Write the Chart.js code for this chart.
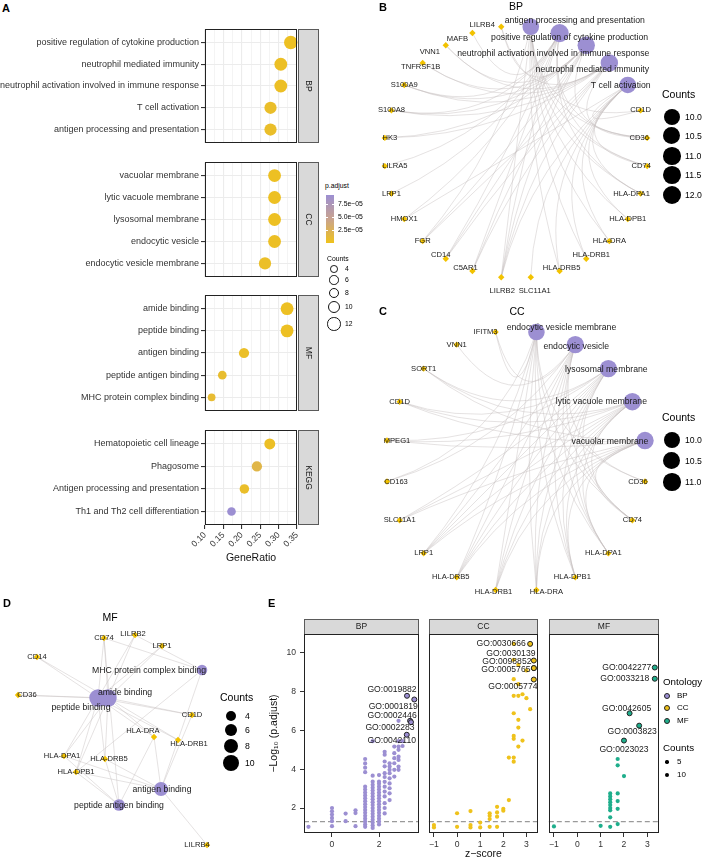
<!DOCTYPE html>
<html>
<head>
<meta charset="utf-8">
<script src="https://cdn.jsdelivr.net/npm/chart.js@4.4.1/dist/chart.umd.min.js"></script>
<style>
  html, body { margin: 0; padding: 0; background: #fff; }
  body { position: relative; width: 704px; height: 860px; overflow: hidden;
         font-family: 'Liberation Sans', Arial, Helvetica, sans-serif; color: #000; }
  canvas { position: absolute; }
  .t { position: absolute; white-space: nowrap; line-height: 1; }
</style>
</head>
<body>
<canvas id="aBP" width="320" height="128" style="left:0;top:22px"></canvas>
<canvas id="aCC" width="320" height="129" style="left:0;top:155px"></canvas>
<canvas id="aMF" width="320" height="130" style="left:0;top:288px"></canvas>
<canvas id="aKEGG" width="320" height="145" style="left:0;top:423px"></canvas>
<canvas id="netBP" width="352" height="300" style="left:352px;top:0"></canvas>
<canvas id="netCC" width="352" height="300" style="left:352px;top:300px"></canvas>
<canvas id="netMF" width="265" height="280" style="left:0;top:580px"></canvas>
<canvas id="eBP" width="152" height="243" style="left:268px;top:617px"></canvas>
<canvas id="eCC" width="112" height="243" style="left:427px;top:617px"></canvas>
<canvas id="eMF" width="113" height="243" style="left:547px;top:617px"></canvas>
<script>
/* =========================
   Data
   ========================= */
// A: enrichment dot plot
const bpTerms = ['positive regulation of cytokine production', 'neutrophil mediated immunity',
  'neutrophil activation involved in immune response', 'T cell activation', 'antigen processing and presentation'];
const bpRatio = [0.333, 0.306, 0.306, 0.278, 0.278];
const bpCount = [12, 11, 11, 10, 10];
const bpPadj = [3e-6, 4e-6, 4e-6, 6e-6, 6e-6];

const ccTerms = ['vacuolar membrane', 'lytic vacuole membrane', 'lysosomal membrane', 'endocytic vesicle', 'endocytic vesicle membrane'];
const ccRatio = [0.289, 0.289, 0.289, 0.289, 0.263];
const ccCount = [11, 11, 11, 11, 10];
const ccPadj = [3e-6, 3e-6, 3e-6, 4e-6, 5e-6];

const mfTerms = ['amide binding', 'peptide binding', 'antigen binding', 'peptide antigen binding', 'MHC protein complex binding'];
const mfRatio = [0.323, 0.323, 0.206, 0.147, 0.118];
const mfCount = [11, 11, 7, 5, 4];
const mfPadj = [3e-6, 3e-6, 5e-6, 8e-6, 9e-6];

const keggTerms = ['Hematopoietic cell lineage', 'Phagosome', 'Antigen processing and presentation', 'Th1 and Th2 cell differentiation'];
const keggRatio = [0.276, 0.241, 0.207, 0.172];
const keggCount = [8, 7, 6, 5];
const keggPadj = [4e-6, 1.8e-5, 6e-6, 9.2e-5];

const padjMax = 9.2e-5;
const padjTicks = [2.5e-5, 5.0e-5, 7.5e-5];
const countTicksA = [4, 6, 8, 10, 12];

// B: BP gene-concept network (circular)
const bpNetTerms = ['antigen processing and presentation', 'positive regulation of cytokine production',
  'neutrophil activation involved in immune response', 'neutrophil mediated immunity', 'T cell activation'];
const bpNetCounts = [10, 12, 11, 11, 10];
const bpNetGenes = ['CD1D', 'CD36', 'CD74', 'HLA-DPA1', 'HLA-DPB1', 'HLA-DRA', 'HLA-DRB1', 'HLA-DRB5', 'SLC11A1',
  'LILRB2', 'C5AR1', 'CD14', 'FGR', 'HMOX1', 'LRP1', 'LILRA5', 'HK3', 'S100A8', 'S100A9', 'TNFRSF1B', 'VNN1', 'MAFB', 'LILRB4'];
const bpNetLinks = [
  ['CD1D', 'CD74', 'HLA-DPA1', 'HLA-DPB1', 'HLA-DRA', 'HLA-DRB1', 'HLA-DRB5', 'CD36', 'LILRB2', 'FGR'],
  ['CD14', 'CD36', 'CD74', 'LILRA5', 'LILRB2', 'C5AR1', 'HMOX1', 'MAFB', 'S100A8', 'S100A9', 'HLA-DPA1', 'LRP1'],
  ['LILRB4', 'LILRB2', 'C5AR1', 'CD14', 'FGR', 'HK3', 'S100A8', 'S100A9', 'TNFRSF1B', 'VNN1', 'CD36'],
  ['LILRB4', 'LILRB2', 'C5AR1', 'CD14', 'FGR', 'HK3', 'S100A8', 'S100A9', 'TNFRSF1B', 'VNN1', 'CD36'],
  ['CD1D', 'CD74', 'HLA-DPA1', 'HLA-DPB1', 'HLA-DRA', 'HLA-DRB1', 'HLA-DRB5', 'HMOX1', 'SLC11A1', 'LILRB2']
];
const bpCountTicks = [10.0, 10.5, 11.0, 11.5, 12.0];

// C: CC gene-concept network (circular)
const ccNetTerms = ['endocytic vesicle membrane', 'endocytic vesicle', 'lysosomal membrane', 'lytic vacuole membrane', 'vacuolar membrane'];
const ccNetCounts = [10, 11, 11, 11, 11];
const ccNetGenes = ['CD36', 'CD74', 'HLA-DPA1', 'HLA-DPB1', 'HLA-DRA', 'HLA-DRB1', 'HLA-DRB5', 'LRP1', 'SLC11A1',
  'CD163', 'MPEG1', 'CD1D', 'SORT1', 'VNN1', 'IFITM3'];
const lysoGenes = ['CD1D', 'CD74', 'HLA-DPA1', 'HLA-DPB1', 'HLA-DRA', 'HLA-DRB1', 'HLA-DRB5', 'SLC11A1', 'MPEG1', 'SORT1', 'LRP1'];
const ccNetLinks = [
  ['CD36', 'CD74', 'HLA-DPA1', 'HLA-DPB1', 'HLA-DRA', 'HLA-DRB1', 'HLA-DRB5', 'LRP1', 'CD163', 'IFITM3'],
  ['CD36', 'CD74', 'HLA-DPA1', 'HLA-DPB1', 'HLA-DRA', 'HLA-DRB1', 'HLA-DRB5', 'LRP1', 'CD163', 'IFITM3', 'VNN1'],
  lysoGenes, lysoGenes, lysoGenes
];
const ccCountTicks = [10.0, 10.5, 11.0];

// D: MF gene-concept network (force layout)
const mfNetTerms = ['amide binding', 'peptide binding', 'MHC protein complex binding', 'antigen binding', 'peptide antigen binding'];
const mfNetCounts = [11, 11, 4, 7, 5];
const mfNetTermX = [-0.24, -0.04, 1.84, 1.02, 0.18];
const mfNetTermY = [0.44, 0.44, 1.0, -1.38, -1.7];
const mfNetGenes = ['CD74', 'LILRB2', 'LRP1', 'CD14', 'CD36', 'CD1D', 'HLA-DRA', 'HLA-DRB1', 'HLA-DPA1', 'HLA-DRB5', 'HLA-DPB1', 'LILRB4'];
const mfNetGeneX = [-0.12, 0.5, 1.04, -1.46, -1.84, 1.64, 0.88, 1.36, -0.92, -0.1, -0.68, 1.94];
const mfNetGeneY = [1.64, 1.7, 1.48, 1.26, 0.5, 0.1, -0.34, -0.4, -0.72, -0.78, -1.04, -2.5];
const amideGenes = ['CD74', 'LILRB2', 'LRP1', 'CD14', 'CD36', 'CD1D', 'HLA-DRA', 'HLA-DRB1', 'HLA-DPA1', 'HLA-DRB5', 'HLA-DPB1'];
const mfNetLinks = [
  amideGenes, amideGenes,
  ['CD74', 'LILRB2', 'HLA-DRB1', 'HLA-DPB1'],
  ['LILRB4', 'HLA-DRA', 'HLA-DRB1', 'HLA-DPA1', 'HLA-DPB1', 'HLA-DRB5', 'CD1D'],
  ['HLA-DRA', 'HLA-DPA1', 'HLA-DPB1', 'HLA-DRB5', 'CD74']
];
const mfCountTicks = [4, 6, 8, 10];

// E: z-score vs -log10(p.adjust), unlabelled terms grouped by z-score column
const eBpZ = [-1, 0, 0.58, 1, 1.41, 1.73, 2, 2.24, 2.45, 2.65, 2.83, 3];
const eBpLogP = [
  [1.03],
  [2.0, 1.83, 1.66, 1.49, 1.32, 1.06],
  [1.71, 1.32],
  [1.88, 1.74, 1.06],
  [4.53, 4.3, 4.08, 3.85, 3.1, 2.95, 2.8, 2.65, 2.5, 2.35, 2.2, 2.05, 1.9, 1.75, 1.6, 1.45, 1.3, 1.15, 1.03],
  [5.45, 3.67, 3.36, 3.2, 3.05, 2.9, 2.75, 2.6, 2.45, 2.3, 2.15, 2.0, 1.85, 1.7, 1.55, 1.4, 1.25, 1.1, 0.97],
  [3.7, 3.36, 3.25, 3.1, 2.95, 2.8, 2.65, 2.5, 2.35, 2.2, 2.05, 1.9, 1.75, 1.6, 1.45, 1.3, 1.15],
  [4.9, 4.75, 4.4, 4.15, 3.8, 3.6, 3.35, 3.1, 2.85, 2.6, 2.25, 2.0, 1.72],
  [4.31, 4.14, 3.97, 3.8, 3.53, 3.27, 3.02, 2.76, 2.41],
  [5.17, 4.83, 4.57, 4.31, 3.97, 3.62],
  [6.5, 5.45, 5.17, 5.0, 4.65, 4.48, 4.14, 3.97],
  [5.45, 5.2]
];
const eBpTopId = ['GO:0019882', 'GO:0001819', 'GO:0002446', 'GO:0002283', 'GO:0042110'];
const eBpTopZ = [3.19, 3.5, 3.32, 3.36, 3.18];
const eBpTopLogP = [7.79, 7.6, 6.5, 6.43, 5.78];

const eCcZ = [-1, 0, 0.58, 1, 1.41, 1.73, 2, 2.24, 2.45, 2.65, 2.83, 3, 3.16];
const eCcLogP = [
  [1.12, 1.0],
  [1.73, 1.03],
  [1.84, 1.12, 1.0],
  [1.25, 1.0],
  [1.73, 1.6, 1.43, 1.03],
  [2.06, 1.77, 1.55, 1.03],
  [1.96, 1.86],
  [4.6, 2.41],
  [10.47, 9.65, 8.65, 7.79, 6.89, 5.72, 5.57, 4.6, 4.39],
  [9.39, 8.39, 7.79, 6.55, 6.15, 5.17],
  [7.87, 5.48],
  [9.1, 7.67],
  [7.1]
];
const eCcTopId = ['GO:0030666', 'GO:0030139', 'GO:0098852', 'GO:0005765', 'GO:0005774'];
const eCcTopZ = [3.16, 3.32, 3.32, 3.32, 3.32];
const eCcTopLogP = [10.47, 9.61, 9.22, 9.22, 8.63];

const eMfZ = [-1, 1, 1.41, 1.73, 2];
const eMfLogP = [
  [1.05],
  [1.08],
  [2.75, 2.6, 2.45, 2.3, 2.15, 2.0, 1.88, 1.52, 1.03],
  [4.53, 4.2, 2.75, 2.36, 1.96, 1.17],
  [3.65]
];
const eMfTopId = ['GO:0042277', 'GO:0033218', 'GO:0042605', 'GO:0003823', 'GO:0023023'];
const eMfTopZ = [3.32, 3.32, 2.24, 2.65, 2.0];
const eMfTopLogP = [9.25, 8.67, 6.89, 6.25, 5.48];

const eYTicks = [2, 4, 6, 8, 10];
const pCutoff = -Math.log10(0.05);

/* =========================
   Theme
   ========================= */
const FONT = "'Liberation Sans', Arial, Helvetica, sans-serif";
Chart.defaults.font.family = FONT;
Chart.defaults.color = '#333';

const YELLOW = '#EFC21B';
const PURPLE = '#9C8FD2';
const TEAL = '#1FAE8C';
const GENE = '#F2C200';
const EDGE = 'rgba(196,190,190,0.75)';

function mix(a, b, t) {
  const pa = a.match(/\w\w/g).map(h => parseInt(h, 16));
  const pb = b.match(/\w\w/g).map(h => parseInt(h, 16));
  return 'rgb(' + pa.map((v, i) => Math.round(v + (pb[i] - v) * t)).join(',') + ')';
}
function padjColor(p) {
  const t = Math.min(1, Math.max(0, p / padjMax));
  return t < 0.5 ? mix('EFC21B', 'C9A38F', t * 2) : mix('C9A38F', '9C8FD2', (t - 0.5) * 2);
}
const dotRadius = c => 6.7 * Math.sqrt(c / 12);
const netRadius = c => 8.3 * Math.sqrt(c / 10);

/* =========================
   Plugins
   ========================= */
function framePlugin(o) {
  return {
    id: 'frame',
    beforeDatasetsDraw(chart) {
      if (o.hline == null) return;
      const { ctx, chartArea: a, scales: { y } } = chart;
      const py = y.getPixelForValue(o.hline);
      ctx.save();
      ctx.strokeStyle = '#9a9a9a'; ctx.lineWidth = 1.3; ctx.setLineDash([5, 3]);
      ctx.beginPath(); ctx.moveTo(a.left, py); ctx.lineTo(a.right, py); ctx.stroke();
      ctx.restore();
    },
    afterDraw(chart) {
      const { ctx, chartArea: a } = chart;
      ctx.save();
      const L = Math.round(a.left) + 0.5, T = Math.round(a.top) + 0.5;
      const R = Math.round(a.right) - 0.5, B = Math.round(a.bottom) - 0.5;
      ctx.fillStyle = '#D9D9D9'; ctx.strokeStyle = '#5a5a5a'; ctx.lineWidth = 1;
      ctx.font = '8.5px ' + FONT; ctx.textAlign = 'center'; ctx.textBaseline = 'middle';
      if (o.side === 'right') {
        ctx.fillRect(R + 2, T, 20, B - T);
        ctx.strokeRect(R + 2, T, 20, B - T);
        ctx.fillStyle = '#1a1a1a';
        ctx.translate(R + 12, (T + B) / 2); ctx.rotate(Math.PI / 2);
        ctx.fillText(o.strip, 0, 0);
        ctx.setTransform(1, 0, 0, 1, 0, 0);
      } else if (o.side === 'top') {
        ctx.fillRect(L, T - 15, R - L, 15);
        ctx.strokeRect(L, T - 15, R - L, 15);
        ctx.fillStyle = '#1a1a1a';
        ctx.fillText(o.strip, (L + R) / 2, T - 7.5);
      }
      ctx.strokeStyle = '#222';
      ctx.strokeRect(L, T, R - L, B - T);
      ctx.restore();
    }
  };
}

function netPlugin(o) {
  return {
    id: 'net',
    beforeDatasetsDraw(chart) {
      const { ctx, scales: { x, y } } = chart;
      const cx = x.getPixelForValue(0), cy = y.getPixelForValue(0);
      ctx.save();
      ctx.strokeStyle = o.edgeColor; ctx.lineWidth = o.edgeWidth;
      o.edges.forEach(([p, q]) => {
        const x1 = x.getPixelForValue(p.x), y1 = y.getPixelForValue(p.y);
        const x2 = x.getPixelForValue(q.x), y2 = y.getPixelForValue(q.y);
        ctx.beginPath(); ctx.moveTo(x1, y1);
        if (o.bend) {
          const mx = (x1 + x2) / 2, my = (y1 + y2) / 2;
          ctx.quadraticCurveTo(mx + (cx - mx) * o.bend, my + (cy - my) * o.bend, x2, y2);
        } else {
          ctx.lineTo(x2, y2);
        }
        ctx.stroke();
      });
      ctx.restore();
    },
    afterDatasetsDraw(chart) {
      const { ctx, scales: { x, y } } = chart;
      ctx.save();
      ctx.textAlign = 'center'; ctx.textBaseline = 'middle'; ctx.fillStyle = '#1a1a1a';
      o.labels.forEach(l => {
        const [dx, dy] = o.nudge[l.name] || [0, 0];
        ctx.font = l.size + 'px ' + FONT;
        ctx.fillText(l.name, x.getPixelForValue(l.x) + dx, y.getPixelForValue(l.y) + dy);
      });
      ctx.restore();
    }
  };
}

function pointLabelPlugin(o) {
  return {
    id: 'pointLabels',
    afterDatasetsDraw(chart) {
      const { ctx, scales: { x, y } } = chart;
      ctx.save();
      ctx.textAlign = 'center'; ctx.textBaseline = 'middle'; ctx.fillStyle = '#1a1a1a';
      ctx.font = '8.6px ' + FONT;
      o.ids.forEach((id, i) => {
        const [dx, dy] = o.nudge[i];
        ctx.fillText(id, x.getPixelForValue(o.z[i]) + dx, y.getPixelForValue(o.lp[i]) + dy);
      });
      ctx.restore();
    }
  };
}

const base = { responsive: false, animation: false, events: [] };
const noPlugins = { legend: { display: false }, tooltip: { enabled: false } };

/* =========================
   A: dot plot facets
   ========================= */
function dotFacet(id, terms, ratio, count, padj, strip, bottom) {
  const n = terms.length;
  return new Chart(document.getElementById(id), {
    type: 'scatter',
    data: {
      datasets: [{
        data: ratio.map((r, i) => ({ x: r, y: i })),
        pointRadius: count.map(dotRadius),
        pointBackgroundColor: padj.map(padjColor),
        pointBorderWidth: 0,
        clip: false
      }]
    },
    options: {
      ...base,
      layout: { autoPadding: false, padding: { top: 2, right: 23, bottom: bottom ? 0 : 2, left: 0 } },
      plugins: noPlugins,
      scales: {
        x: {
          type: 'linear', min: 0.1, max: 0.35,
          afterBuildTicks: ax => { ax.ticks = []; for (let k = 0; k <= 10; k++) ax.ticks.push({ value: 0.1 + k * 0.025 }); },
          afterFit: ax => { ax.height = bottom ? 43 : 0; },
          grid: {
            color: '#ECECEC', lineWidth: c => (c.index % 2 ? 0.6 : 1.1),
            drawTicks: bottom, tickLength: 4,
            tickColor: c => (c.index % 2 ? 'rgba(0,0,0,0)' : '#333')
          },
          border: { display: false },
          ticks: {
            display: bottom, autoSkip: false, minRotation: 45, maxRotation: 45, padding: 1,
            font: { size: 8.6 }, color: '#333',
            callback: (v, i) => (i % 2 ? '' : (0.1 + i * 0.025).toFixed(2))
          },
          title: { display: bottom, text: 'GeneRatio', font: { size: 10.5 }, color: '#111', padding: { top: 0, bottom: 4 } }
        },
        y: {
          type: 'linear', reverse: true, min: -0.6, max: n - 0.4,
          afterBuildTicks: ax => { ax.ticks = terms.map((t, i) => ({ value: i })); },
          afterFit: ax => { ax.width = 205; },
          grid: { color: '#ECECEC', lineWidth: 1.1, tickLength: 4, tickColor: '#333' },
          border: { display: false },
          ticks: { autoSkip: false, font: { size: 9 }, color: '#333', padding: 2, callback: v => terms[v] }
        }
      }
    },
    plugins: [framePlugin({ strip, side: 'right' })]
  });
}

dotFacet('aBP', bpTerms, bpRatio, bpCount, bpPadj, 'BP', false);
dotFacet('aCC', ccTerms, ccRatio, ccCount, ccPadj, 'CC', false);
dotFacet('aMF', mfTerms, mfRatio, mfCount, mfPadj, 'MF', false);
dotFacet('aKEGG', keggTerms, keggRatio, keggCount, keggPadj, 'KEGG', true);

/* =========================
   B, C, D: gene-concept networks
   ========================= */
function netChart(id, terms, counts, termPos, genes, genePos, links, view, nudge, bend) {
  const tNodes = terms.map((t, i) => ({ name: t, x: termPos[i].x, y: termPos[i].y }));
  const gNodes = genes.map((g, i) => ({ name: g, x: genePos[i].x, y: genePos[i].y }));
  const gIndex = Object.fromEntries(gNodes.map(g => [g.name, g]));
  const edges = [];
  links.forEach((list, i) => list.forEach(g => edges.push([tNodes[i], gIndex[g]])));
  const labels = gNodes.map(g => ({ ...g, size: 7.6 })).concat(tNodes.map(t => ({ ...t, size: 8.7 })));
  return new Chart(document.getElementById(id), {
    type: 'scatter',
    data: {
      datasets: [
        { data: tNodes, pointRadius: counts.map(netRadius), backgroundColor: PURPLE, borderWidth: 0, clip: false },
        { data: gNodes, pointRadius: 3.2, pointStyle: 'rectRot', backgroundColor: GENE, borderWidth: 0, clip: false }
      ]
    },
    options: {
      ...base,
      layout: { autoPadding: false, padding: 0 },
      plugins: noPlugins,
      scales: {
        x: { type: 'linear', display: false, min: view.x0, max: view.x1 },
        y: { type: 'linear', display: false, min: view.y0, max: view.y1 }
      }
    },
    plugins: [netPlugin({ edges, labels, nudge, bend, edgeColor: EDGE, edgeWidth: 0.6 })]
  });
}

function circlePos(n) {
  const out = [];
  for (let k = 0; k < n; k++) {
    const a = (k + 0.5) * 2 * Math.PI / n;
    out.push({ x: Math.sin(a), y: Math.cos(a) });
  }
  return out;
}

{
  const pos = circlePos(bpNetTerms.length + bpNetGenes.length);
  netChart('netBP', bpNetTerms, bpNetCounts, pos.slice(0, 5), bpNetGenes, pos.slice(5), bpNetLinks,
    { x0: -164 / 132, x1: 188 / 132, y0: -148 / 126, y1: 152 / 126 },
    {
      'antigen processing and presentation': [44, -6], 'positive regulation of cytokine production': [10, 5],
      'neutrophil activation involved in immune response': [-33, 8], 'neutrophil mediated immunity': [-17, 7],
      'T cell activation': [-7, 1],
      'LILRB4': [-19, -2], 'MAFB': [-15, 6], 'VNN1': [-16, 7], 'TNFRSF1B': [-2, 4], 'HK3': [5, 0], 'LILRA5': [10, 0],
      'CD14': [-5, -4], 'C5AR1': [-7, -3], 'LILRB2': [1, 14], 'SLC11A1': [4, 14], 'HLA-DRB5': [2, -3],
      'HLA-DRB1': [5, -4], 'HLA-DPA1': [-9, 0], 'CD74': [-6, 0], 'CD36': [-8, 0]
    }, 0.7);
}
{
  const pos = circlePos(ccNetTerms.length + ccNetGenes.length);
  netChart('netCC', ccNetTerms, ccNetCounts, pos.slice(0, 5), ccNetGenes, pos.slice(5), ccNetLinks,
    { x0: -164 / 130.6, x1: 188 / 130.6, y0: -139 / 130.6, y1: 161 / 130.6 },
    {
      'endocytic vesicle membrane': [25, -4], 'endocytic vesicle': [1, 2], 'lysosomal membrane': [-2, 1],
      'lytic vacuole membrane': [-31, 0], 'vacuolar membrane': [-35, 1],
      'IFITM3': [-10, 0], 'MPEG1': [10, 0], 'CD163': [9, 0], 'HLA-DRB5': [-6, 0], 'HLA-DRA': [10, 2],
      'HLA-DRB1': [-2, 2], 'HLA-DPB1': [-3, 0], 'HLA-DPA1': [-5, 0], 'CD36': [-7, 0]
    }, 0.7);
}
netChart('netMF', mfNetTerms, mfNetCounts, mfNetTermX.map((v, i) => ({ x: v, y: mfNetTermY[i] })),
  mfNetGenes, mfNetGeneX.map((v, i) => ({ x: v, y: mfNetGeneY[i] })), mfNetLinks,
  { x0: -2.2, x1: 3.1, y0: -2.8, y1: 2.8 },
  {
    'amide binding': [27, -5], 'peptide binding': [-27, 10], 'MHC protein complex binding': [-53, 1],
    'antigen binding': [1, 1], 'peptide antigen binding': [0, 1],
    'LILRB2': [-2, -1], 'CD36': [9, 0], 'HLA-DRA': [-11, -6], 'HLA-DRB1': [11, 4], 'HLA-DPA1': [-2, 0],
    'HLA-DRB5': [4, 0], 'LILRB4': [-10, 0]
  }, 0);

/* =========================
   E: z-score facets
   ========================= */
function goFacet(id, name, colZ, colLogP, topId, topZ, topLogP, color, nudge, opt) {
  const pts = [];
  colZ.forEach((z, i) => colLogP[i].forEach(v => pts.push({ x: z, y: v })));
  const top = topZ.map((z, i) => ({ x: z, y: topLogP[i] }));
  return new Chart(document.getElementById(id), {
    type: 'scatter',
    data: {
      datasets: [
        { data: top, pointRadius: 2.5, backgroundColor: color, borderColor: '#222', borderWidth: 1, clip: false },
        { data: pts, pointRadius: 2.1, backgroundColor: color, borderWidth: 0, clip: false }
      ]
    },
    options: {
      ...base,
      layout: { autoPadding: false, padding: { top: 17, right: 1, bottom: 0, left: opt.yaxis ? 0 : 1 } },
      plugins: noPlugins,
      scales: {
        x: {
          type: 'linear', min: opt.xmin, max: opt.xmax,
          afterBuildTicks: ax => { ax.ticks = opt.xticks.map(v => ({ value: v })); },
          afterFit: ax => { ax.height = 27; },
          grid: { drawOnChartArea: false, tickLength: 4, tickColor: '#333' },
          border: { display: false },
          ticks: { autoSkip: false, maxRotation: 0, font: { size: 8.6 }, color: '#333', padding: 2,
            callback: v => (v < 0 ? '\u2212' + Math.abs(v) : String(v)) },
          title: { display: !!opt.xtitle, text: 'z\u2212score', font: { size: 10.5 }, color: '#111', padding: { top: 0, bottom: 0 } }
        },
        y: {
          type: 'linear', min: 0.71, max: 10.98, display: !!opt.yaxis,
          afterBuildTicks: ax => { ax.ticks = eYTicks.map(v => ({ value: v })); },
          afterFit: ax => { if (opt.yaxis) ax.width = 36; },
          grid: { drawOnChartArea: false, tickLength: 4, tickColor: '#333' },
          border: { display: false },
          ticks: { font: { size: 8.6 }, color: '#333', padding: 4 },
          title: { display: true, text: '\u2212Log\u2081\u2080 (p.adjust)', font: { size: 10.5 }, color: '#111', padding: { top: 0, bottom: 2 } }
        }
      }
    },
    plugins: [framePlugin({ strip: name, side: 'top', hline: pCutoff }),
      pointLabelPlugin({ ids: topId, z: topZ, lp: topLogP, nudge })]
  });
}

goFacet('eBP', 'BP', eBpZ, eBpLogP, eBpTopId, eBpTopZ, eBpTopLogP, PURPLE,
  [[-15, -6], [-21, 7], [-18, -5], [-21, 5], [-15, 6]],
  { xmin: -1.19, xmax: 3.7, xticks: [0, 2], yaxis: true });
goFacet('eCC', 'CC', eCcZ, eCcLogP, eCcTopId, eCcTopZ, eCcTopLogP, YELLOW,
  [[-29, 0], [-23, -7], [-27, -6], [-28, 2], [-21, 7]],
  { xmin: -1.22, xmax: 3.5, xticks: [-1, 0, 1, 2, 3], xtitle: true });
goFacet('eMF', 'MF', eMfZ, eMfLogP, eMfTopId, eMfTopZ, eMfTopLogP, TEAL,
  [[-28, 0], [-30, 0], [-3, -5], [-7, 6], [0, 9]],
  { xmin: -1.22, xmax: 3.5, xticks: [-1, 0, 1, 2, 3] });

/* =========================
   Legends, titles, tags (HTML)
   ========================= */
function addText(str, x, y, size, align, extra) {
  const d = document.createElement('div');
  d.className = 't';
  d.textContent = str;
  const tx = align === 'center' ? '-50%' : align === 'right' ? '-100%' : '0';
  d.style.cssText = `left:${x}px;top:${y}px;font-size:${size}px;transform:translate(${tx},-50%);${extra || ''}`;
  document.body.appendChild(d);
  return d;
}
function addDot(x, y, r, fill, stroke, sw) {
  const d = document.createElement('div');
  d.style.cssText = `position:absolute;left:${x - r}px;top:${y - r}px;width:${2 * r}px;height:${2 * r}px;` +
    `border-radius:50%;background:${fill};box-sizing:border-box;border:${stroke ? (sw || 1) + 'px solid ' + stroke : 'none'}`;
  document.body.appendChild(d);
}

// panel tags and titles
addText('A', 2, 8, 11, 'left', 'font-weight:bold');
addText('B', 379, 7, 11, 'left', 'font-weight:bold');
addText('C', 379, 311, 11, 'left', 'font-weight:bold');
addText('D', 3, 603, 11, 'left', 'font-weight:bold');
addText('E', 268, 603, 11, 'left', 'font-weight:bold');
addText('BP', 516, 6, 10.5, 'center');
addText('CC', 517, 311, 10.5, 'center');
addText('MF', 110, 617, 10.5, 'center');

// A legend: colour bar + size
addText('p.adjust', 325, 186, 6.8, 'left');
{
  const bar = document.createElement('div');
  bar.style.cssText = 'position:absolute;left:326px;top:195px;width:8px;height:48px;' +
    'background:linear-gradient(to top,#EFC21B,#C9A38F 50%,#9C8FD2)';
  document.body.appendChild(bar);
  padjTicks.forEach(p => {
    const y = 243 - p / padjMax * 48;
    const tk = document.createElement('div');
    tk.style.cssText = `position:absolute;left:326px;top:${y}px;width:8px;height:1px;background:linear-gradient(to right,#fff 0 2px,transparent 2px 6px,#fff 6px)`;
    document.body.appendChild(tk);
    addText((p / 1e-5).toFixed(1) + 'e\u221205', 338, y, 6.8, 'left');
  });
}
addText('Counts', 327, 259, 6.8, 'left');
[269, 280, 293, 307, 324].forEach((y, i) => {
  addDot(334, y, dotRadius(countTicksA[i]), '#fff', '#111', 1);
  addText(String(countTicksA[i]), 345, y, 6.8, 'left');
});

// B legend
addText('Counts', 662, 94, 10.5, 'left');
[117, 136, 156, 175, 195].forEach((y, i) => {
  addDot(672, y, netRadius(bpCountTicks[i]), '#000');
  addText(bpCountTicks[i].toFixed(1), 685, y, 8.7, 'left');
});
// C legend
addText('Counts', 662, 417, 10.5, 'left');
[440, 461, 482].forEach((y, i) => {
  addDot(672, y, netRadius(ccCountTicks[i]), '#000');
  addText(ccCountTicks[i].toFixed(1), 685, y, 8.7, 'left');
});
// D legend
addText('Counts', 220, 697, 10.5, 'left');
[716, 730, 746, 763].forEach((y, i) => {
  addDot(231, y, netRadius(mfCountTicks[i]), '#000');
  addText(String(mfCountTicks[i]), 245, y, 8.7, 'left');
});
// E legend
addText('Ontology', 663, 682, 9.8, 'left');
[['BP', PURPLE, 696], ['CC', YELLOW, 708], ['MF', TEAL, 721]].forEach(([k, c, y]) => {
  addDot(667, y, 3.2, c, '#222', 1);
  addText(k, 677, y, 8, 'left');
});
addText('Counts', 663, 748, 9.8, 'left');
addDot(667, 762, 1.7, '#000');
addText('5', 677, 762, 8, 'left');
addDot(667, 775, 2.3, '#000');
addText('10', 677, 775, 8, 'left');
</script>
</body>
</html>
